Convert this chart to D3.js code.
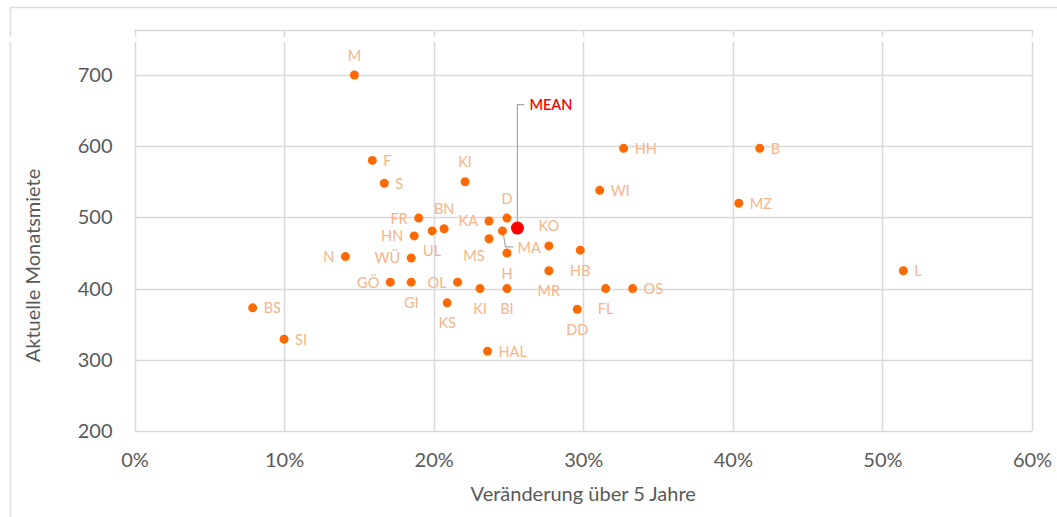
<!DOCTYPE html>
<html>
<head>
<meta charset="utf-8">
<script src="https://cdn.jsdelivr.net/npm/d3@7"></script>
<style>
  html, body { margin: 0; padding: 0; background: #fff; }
  svg { display: block; font-family: Lato, "Open Sans", sans-serif; }
</style>
</head>
<body>
<svg id="chart" width="1057" height="517"></svg>
<script>
// ---- data ----
const codes    = ["M","F","S","KI","HH","B","WI","MZ","FR","BN","UL","KA","D","MA","MS","H","BI","KI","KO","HB","MR","N","WÜ","HN","GÖ","GI","OL","KS","DD","FL","OS","HAL","BS","SI","L"];
const changes  = [14.7,15.9,16.7,22.1,32.7,41.8,31.1,40.4,19.0,20.7,19.9,23.7,24.9,24.6,23.7,24.9,24.9,23.1,27.7,29.8,27.7,14.1,18.5,18.7,17.1,18.5,21.6,20.9,29.6,31.5,33.3,23.6,7.9,10.0,51.4];
const rents    = [700,580,548,550,597,597,538,520,499,484,481,495,499,481,470,450,400,400,460,454,425,445,443,474,409,409,409,380,371,400,400,312,373,329,425];
const labelPos = ["t","r","r","t","r","r","r","r","l","t","b","l","t","leader","bl","b","b","b","t","b","b","l","l","l","l","b","l","b","b","b","r","r","r","r","r"];
const meanLabel = "MEAN";
const meanChange = 25.6;
const meanRent = 485;
const xTicks = [0,10,20,30,40,50,60];
const yTicks = [200,300,400,500,600,700];
const xTitle = "Veränderung über 5 Jahre";
const yTitle = "Aktuelle Monatsmiete";

// ---- layout ----
const svg = d3.select("#chart");
const x = d3.scaleLinear().domain([0, 60]).range([134.5, 1032]);
const y = d3.scaleLinear().domain([200, 700]).range([431, 75]);
const plotTop = 30;

const gridColor = "#d9d9d9";
const textGray = "#595959";
const dotColor = "#ff6a00";
const labelColor = "#f5b48a";

// outer frame (partial, as in the screenshot)
svg.append("path")
  .attr("d", "M10.5,517 L10.5,7.5 L1057,7.5")
  .attr("fill", "none").attr("stroke", "#dcdcdc").attr("stroke-width", 1.5);

// gridlines
svg.append("g").selectAll("line").data(yTicks).join("line")
  .attr("x1", x(0)).attr("x2", x(60))
  .attr("y1", d => Math.round(y(d)) + 0.5).attr("y2", d => Math.round(y(d)) + 0.5)
  .attr("stroke", gridColor).attr("stroke-width", 1.5);
svg.append("g").selectAll("line").data(xTicks).join("line")
  .attr("x1", d => Math.round(x(d)) + 0.5).attr("x2", d => Math.round(x(d)) + 0.5)
  .attr("y1", plotTop).attr("y2", y(200))
  .attr("stroke", gridColor).attr("stroke-width", 1.5);
svg.append("line")
  .attr("x1", x(0)).attr("x2", x(60)).attr("y1", plotTop + 0.5).attr("y2", plotTop + 0.5)
  .attr("stroke", gridColor).attr("stroke-width", 1.5);

// white strip artefact across the top of the screenshot
svg.append("rect").attr("x", 0).attr("y", 37).attr("width", 1057).attr("height", 5).attr("fill", "#fff");

// axes (text only, via d3 axis)
const yAxis = d3.axisLeft(y).tickValues(yTicks).tickSize(0).tickPadding(22);
svg.append("g").attr("transform", `translate(${x(0)},0)`).call(yAxis)
  .call(g => g.select(".domain").remove())
  .call(g => g.selectAll("text").attr("fill", textGray).style("font-size", "20px").style("font-family", "Lato, sans-serif"));

const xAxis = d3.axisBottom(x).tickValues(xTicks).tickFormat(d => d + "%").tickSize(0).tickPadding(22);
svg.append("g").attr("transform", `translate(0,${y(200)})`).call(xAxis)
  .call(g => g.select(".domain").remove())
  .call(g => g.selectAll("text").attr("fill", textGray).style("font-size", "20px").style("font-family", "Lato, sans-serif"));

// axis titles
svg.append("text")
  .attr("x", (x(0) + x(60)) / 2).attr("y", 501)
  .attr("text-anchor", "middle").attr("fill", textGray).style("font-size", "20px")
  .text(xTitle);
svg.append("text")
  .attr("transform", `translate(40,${(y(200) + plotTop) / 2 + 35}) rotate(-90)`)
  .attr("text-anchor", "middle").attr("fill", textGray).style("font-size", "20px")
  .text(yTitle);

// data
const pts = codes.map((c, i) => ({ code: c, cx: x(changes[i]), cy: y(rents[i]), pos: labelPos[i] }));

// leader lines
pts.filter(p => p.pos === "leader").forEach(p => {
  svg.append("path")
    .attr("d", `M${p.cx + 1},${p.cy + 4} L${p.cx + 3},${p.cy + 16} L${p.cx + 11},${p.cy + 16}`)
    .attr("fill", "none").attr("stroke", "#a6a6a6").attr("stroke-width", 1.2);
});
const mx = x(meanChange), my = y(meanRent), ly = y(659);
svg.append("path")
  .attr("d", `M${mx},${my - 6} L${mx},${ly + 0.5} L${mx + 7},${ly + 0.5}`)
  .attr("fill", "none").attr("stroke", "#a6a6a6").attr("stroke-width", 1.2);

svg.append("g").selectAll("circle").data(pts).join("circle")
  .attr("cx", d => d.cx).attr("cy", d => d.cy).attr("r", 4.5)
  .attr("fill", dotColor);

svg.append("circle").attr("cx", mx).attr("cy", my).attr("r", 6.5).attr("fill", "#ff0000");

function labelAttrs(p) {
  switch (p.pos) {
    case "r": return { x: p.cx + 11, y: p.cy, a: "start" };
    case "l": return { x: p.cx - 11, y: p.cy, a: "end" };
    case "t": return { x: p.cx, y: p.cy - 20, a: "middle" };
    case "b": return { x: p.cx, y: p.cy + 20, a: "middle" };
    case "bl": return { x: p.cx - 15, y: p.cy + 17, a: "middle" };
    case "leader": return { x: p.cx + 15, y: p.cy + 17, a: "start" };
  }
}
svg.append("g").selectAll("text").data(pts).join("text")
  .each(function(p) {
    const a = labelAttrs(p);
    d3.select(this).attr("x", a.x).attr("y", a.y).attr("text-anchor", a.a);
  })
  .attr("dominant-baseline", "central")
  .attr("fill", labelColor).style("font-size", "14.5px")
  .text(d => d.code);

svg.append("text")
  .attr("x", mx + 12).attr("y", ly).attr("dominant-baseline", "central")
  .attr("fill", "#ff0000").style("font-size", "14.5px").style("font-weight", 600)
  .text(meanLabel);
</script>
</body>
</html>
